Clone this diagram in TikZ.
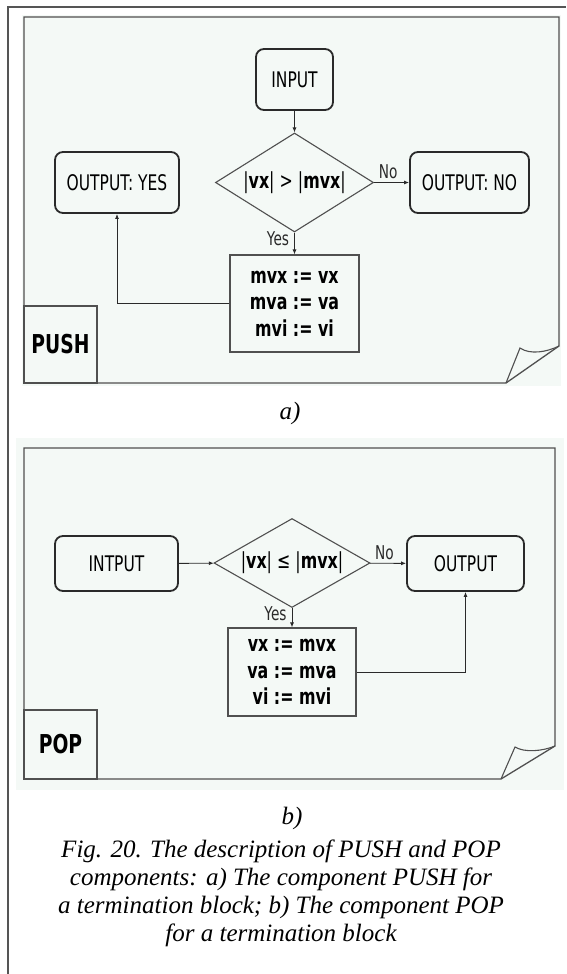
\documentclass[tikz,border=0pt]{standalone}
\usepackage{fontspec}
\setmainfont{Liberation Serif}
\setsansfont{DejaVu Sans}[FakeStretch=0.72]
\usetikzlibrary{positioning,arrows.meta,shapes.geometric}
\definecolor{sheet}{HTML}{F4F9F6}
\definecolor{edge}{HTML}{505050}
\definecolor{ink}{HTML}{2A2A2A}

\tikzset{
  term/.style={draw=ink, line width=1.8pt, rounded corners=8pt, fill=sheet,
    inner sep=0pt, font=\sffamily\fontsize{21.5}{24}\selectfont},
  test/.style={diamond, draw=edge, line width=1.1pt, fill=sheet, inner sep=0pt,
    font=\sffamily\fontsize{22}{24}\selectfont},
  proc/.style={draw=edge, line width=1.1pt, fill=sheet, align=center, inner sep=0pt,
    font=\sffamily\bfseries\fontsize{22}{26.5}\selectfont},
  tagbox/.style={draw=edge, line width=1.1pt, inner sep=0pt,
    font=\sffamily\bfseries\fontsize{26}{26}\selectfont},
  flow/.style={draw=ink, line width=0.9pt, -{Latex[length=5pt,width=4pt]}},
  lbl/.style={text=ink, inner sep=1pt, font=\sffamily\fontsize{19}{19}\selectfont},
  figcap/.style={font=\itshape\fontsize{25}{28}\selectfont}
}

\begin{document}
\begin{tikzpicture}[x=1pt,y=-1pt]
  \useasboundingbox (0,0) rectangle (566,974);
  % frame of the cell
  \draw[line width=2pt, ink!80] (7.5,974) -- (7.5,7) -- (566,7);

  % PUSH sheet
  \fill[sheet] (22,15) rectangle (561,386);
  \draw[edge, line width=1.3pt] (24,17) -- (559,17) -- (559,346) -- (506,383) -- (24,383) -- cycle;
  \draw[edge, line width=1.1pt] (506,383) -- (520,348) .. controls (530,355) and (547,352) .. (559,346);
  \node[tagbox, minimum width=73pt, minimum height=77pt] (push) at (60.5,344.5) {PUSH};

  \node[term, minimum width=77pt, minimum height=61pt] (in1) at (294.5,79.5) {INPUT};
  \node[test, aspect=1.6, minimum width=158pt, minimum height=99pt] (dec1) at (294.5,182.5)
    {|\textbf{vx}| > |\textbf{mvx}|};
  \node[term, minimum width=124pt, minimum height=61pt] (yes1) at (117,182.5) {OUTPUT: YES};
  \node[term, minimum width=119pt, minimum height=61pt] (no1) at (469.5,182.5) {OUTPUT: NO};
  \node[proc, minimum width=129pt, minimum height=97pt] (set1) at (294.5,303.5)
    {mvx := vx\\ mva := va\\ mvi := vi};

  \draw[flow] (in1) -- (dec1);
  \draw[flow] (dec1) -- node[lbl, above=2pt, pos=0.4] {No} (no1);
  \draw[flow] (dec1) -- node[lbl, left=4pt, pos=0.3] {Yes} (set1);
  \draw[flow] (set1.west) -| (yes1.south);

  \node[figcap] (capa) at (290,413) {a)};

  % POP sheet
  \fill[sheet] (16,438) rectangle (564,790);
  \draw[edge, line width=1.3pt] (24,448) -- (555,448) -- (555,746) -- (501,779) -- (24,779) -- cycle;
  \draw[edge, line width=1.1pt] (501,779) -- (515,747) .. controls (525,753) and (543,751) .. (555,746);
  \node[tagbox, minimum width=73pt, minimum height=69pt] (pop) at (60.5,744.5) {POP};

  \node[term, minimum width=123pt, minimum height=55pt] (in2) at (116.5,563.5) {INTPUT};
  \node[test, aspect=1.75, minimum width=156pt, minimum height=89pt] (dec2) at (292,563)
    {|\textbf{vx}| ≤ |\textbf{mvx}|};
  \node[term, minimum width=117pt, minimum height=55pt] (out2) at (465.5,563.5) {OUTPUT};
  \node[proc, minimum width=128pt, minimum height=88pt] (set2) at (292,672)
    {vx := mvx\\ va := mva\\ vi := mvi};

  \draw[flow] (in2) -- (dec2);
  \draw[flow] (dec2) -- node[lbl, above=2pt, pos=0.4] {No} (out2);
  \draw[flow] (dec2) -- node[lbl, left=4pt, pos=0.3] {Yes} (set2);
  \draw[flow] (set2.east) -| (out2.south);

  \node[figcap] (capb) at (292,818) {b)};
  \node[figcap, align=center] (fig) at (281,893)
    {Fig. 20. The description of PUSH and POP\\
     components: a) The component PUSH for\\
     a termination block; b) The component POP\\
     for a termination block};
\end{tikzpicture}
\end{document}
